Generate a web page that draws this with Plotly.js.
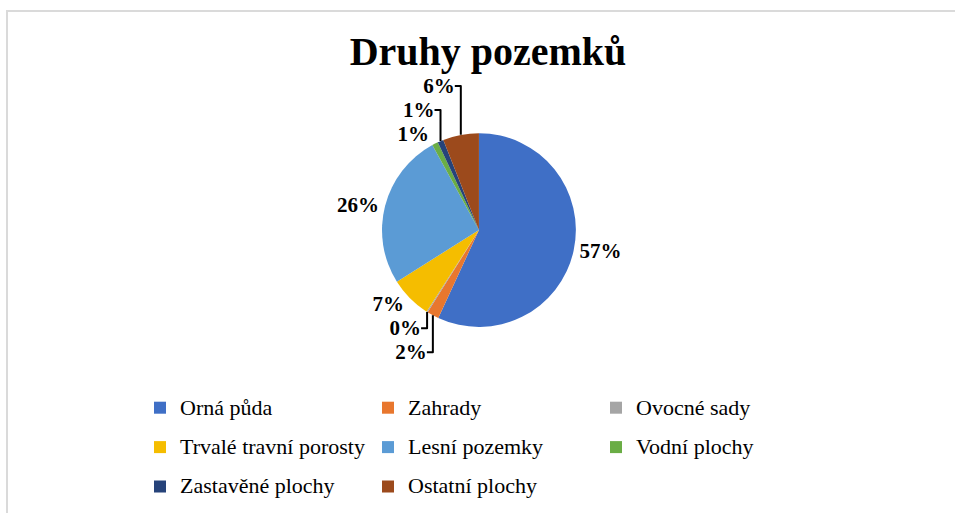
<!DOCTYPE html>
<html>
<head>
<meta charset="utf-8">
<script src="https://cdn.plot.ly/plotly-3.0.1.min.js"></script>
<style>
html,body{margin:0;padding:0;background:#fff;}
#chart{width:955px;height:513px;position:absolute;left:0;top:0;}
#frame{position:absolute;left:6px;top:10px;width:960px;height:520px;border-top:2px solid #dadada;border-left:2px solid #dadada;pointer-events:none;}
#chart .legendtext, #chart .legendtext tspan{font-family:'Liberation Serif',serif !important;}
#chart .legendtext{transform:translateY(-4px);}
</style>
</head>
<body>
<div id="chart"></div>
<div id="frame"></div>
<script>
var categories = ["Orná půda","Zahrady","Ovocné sady","Trvalé travní porosty","Lesní pozemky","Vodní plochy","Zastavěné plochy","Ostatní plochy"];
var values = [57, 2, 0.2, 7, 26, 1, 1, 6];
var colors = ["#3f6fc6","#e8772e","#a5a5a5","#f5bd00","#5b9bd5","#6aad45","#26437a","#9c4a1c"];

// legend text drawn at 22px inside a taller legend row (row height follows legend font size)
var legendLabels = categories.map(function (c) {
  return '<span style="font-size:22px">' + c + '</span>';
});

var trace = {
  type: "pie",
  labels: legendLabels,
  values: values,
  sort: false,
  direction: "clockwise",
  rotation: 0,
  marker: {colors: colors, line: {color: "#ffffff", width: 0}},
  texttemplate: "<b>%{percent:.0%}</b>",
  textposition: "outside",
  textfont: {family: "Liberation Serif", size: 21, color: "#000"},
  hoverinfo: "percent",
  domain: {x: [0.30, 0.635], y: [0.1425, 0.684]},
  automargin: false
};

var layout = {
  width: 955, height: 513,
  paper_bgcolor: "#fff", plot_bgcolor: "#fff",
  margin: {l: 140, r: 90, t: 20, b: 135},
  title: {text: "<b>Druhy pozemků</b>", font: {family: "Liberation Serif", size: 40, color: "#000"},
          xref: "container", yref: "container", x: 0.511, xanchor: "center", y: 0.9, yanchor: "middle"},
  showlegend: true,
  legend: {
    orientation: "h", x: 0, xanchor: "left", yref: "container", y: 0.2534, yanchor: "top",
    font: {family: "Liberation Serif", size: 28, color: "#000"},
    entrywidth: 183, entrywidthmode: "pixels",
    itemwidth: 30, tracegroupgap: 0, traceorder: "normal"
  }
};

Plotly.newPlot("chart", [trace], layout, {displayModeBar: false, staticPlot: true});
</script>
</body>
</html>
